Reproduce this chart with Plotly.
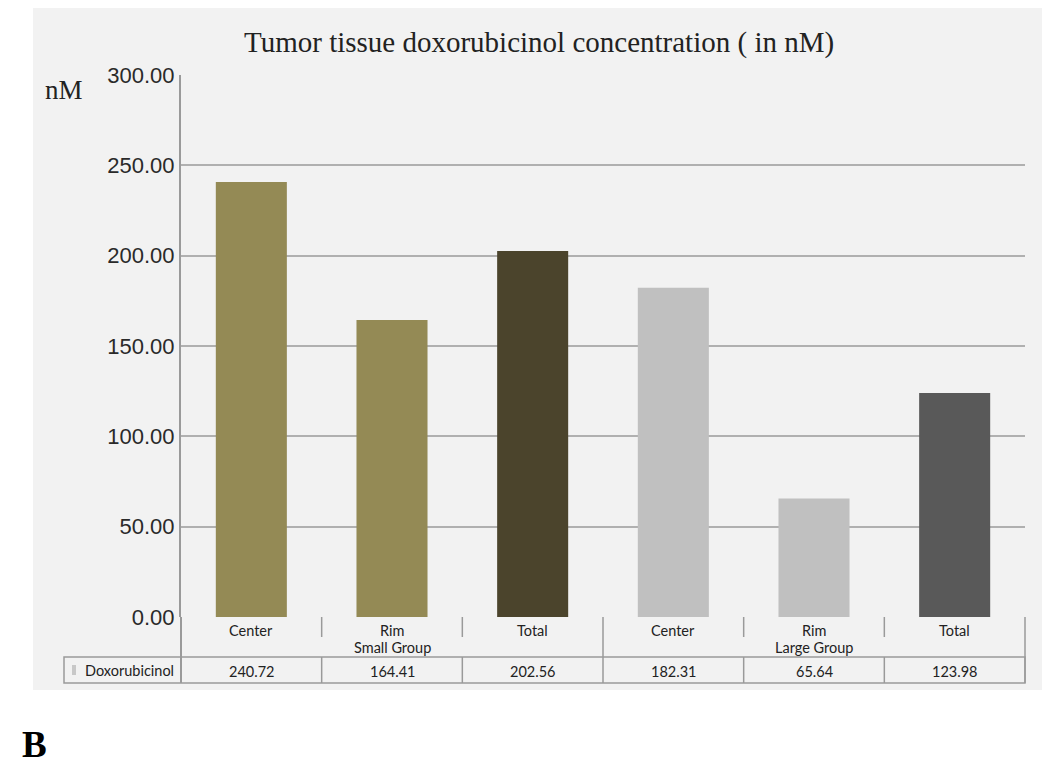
import plotly.graph_objects as go

# ---- data ----
categories = ["Center", "Rim", "Total", "Center", "Rim", "Total"]
groups = ["Small Group", "Large Group"]
values = [240.72, 164.41, 202.56, 182.31, 65.64, 123.98]
series_name = "Doxorubicinol"
bar_colors = ["#948a55", "#948a55", "#4b442c", "#c0c0c0", "#c0c0c0", "#595959"]
y_ticks = [0, 50, 100, 150, 200, 250, 300]

OFF = 8  # page body margin
W, H = 1050 - OFF, 765 - OFF
PL, PR, PT, PB = 181, 1025, 75, 617  # plot area in window pixels
ML, MT = PL - OFF, PT - OFF
MR = W - (PR - OFF)
MB = H - (PB - OFF)
PW, PH = PR - PL, PB - PT

def px(xp):
    return (xp - PL) / PW

def py(yp):
    return (PB - yp) / PH

LINE = "#9a9a9a"
PANEL = "#f2f2f2"

fig = go.Figure()
fig.add_trace(go.Bar(
    x=list(range(len(values))), y=values,
    marker=dict(color=bar_colors, line=dict(width=0)),
    showlegend=False, hoverinfo="y"))

shapes = []
shapes.append(dict(type="rect", xref="paper", yref="paper", layer="below",
                   x0=px(33), x1=px(1046), y0=py(690), y1=py(0),
                   fillcolor=PANEL, line=dict(width=0)))
shapes.append(dict(type="line", xref="paper", yref="paper", x0=0, x1=0,
                   y0=py(683), y1=0, line=dict(color=LINE, width=2)))
shapes.append(dict(type="line", xref="paper", yref="paper", x0=1, x1=1,
                   y0=py(683), y1=0, line=dict(color=LINE, width=1.5)))
shapes.append(dict(type="rect", xref="paper", yref="paper",
                   x0=px(64), x1=1, y0=py(683), y1=py(657),
                   line=dict(color=LINE, width=1.5)))
n = len(categories)
for k in range(1, n):
    xk = k / n
    if k == 3:
        shapes.append(dict(type="line", xref="paper", yref="paper", x0=xk, x1=xk,
                           y0=py(683), y1=0, line=dict(color=LINE, width=1.5)))
    else:
        shapes.append(dict(type="line", xref="paper", yref="paper", x0=xk, x1=xk,
                           y0=py(637), y1=0, line=dict(color=LINE, width=1.5)))
        shapes.append(dict(type="line", xref="paper", yref="paper", x0=xk, x1=xk,
                           y0=py(683), y1=py(657), line=dict(color=LINE, width=1.5)))
shapes.append(dict(type="rect", xref="paper", yref="paper",
                   x0=px(72), x1=px(76), y0=py(675), y1=py(665),
                   fillcolor="#c8c8c8", line=dict(width=0)))

cat_font = dict(family="Lato, Liberation Sans, sans-serif", size=14.5, color="#222222")
ann = []
for i, c in enumerate(categories):
    ann.append(dict(x=i, y=py(630), xref="x", yref="paper", text=c,
                    showarrow=False, font=cat_font, xanchor="center", yanchor="middle"))
    ann.append(dict(x=i, y=py(671), xref="x", yref="paper", text=f"{values[i]:.2f}",
                    showarrow=False, font=cat_font, xanchor="center", yanchor="middle"))
for g, gname in enumerate(groups):
    ann.append(dict(x=g * 3 + 1, y=py(647), xref="x", yref="paper", text=gname,
                    showarrow=False, font=cat_font, xanchor="center", yanchor="middle"))
ann.append(dict(x=px(83), y=py(670), xref="paper", yref="paper", text=series_name,
                showarrow=False, font=cat_font, xanchor="left", yanchor="middle"))
ann.append(dict(x=px(539), y=py(42), xref="paper", yref="paper",
                text="Tumor tissue doxorubicinol concentration ( in nM)",
                showarrow=False, xanchor="center", yanchor="middle",
                font=dict(family="Liberation Serif, Times New Roman, serif", size=29, color="#222222")))
ann.append(dict(x=px(43), y=py(90), xref="paper", yref="paper", text="nM",
                showarrow=False, xanchor="left", yanchor="middle",
                font=dict(family="Liberation Serif, Times New Roman, serif", size=27, color="#222222")))
ann.append(dict(x=px(20), y=py(744), xref="paper", yref="paper", text="<b>B</b>",
                showarrow=False, xanchor="left", yanchor="middle",
                font=dict(family="Liberation Serif, Times New Roman, serif", size=37, color="#000000")))

fig.update_layout(
    width=W, height=H, autosize=False,
    margin=dict(l=ML, r=MR, t=MT, b=MB, pad=0),
    paper_bgcolor="white", plot_bgcolor=PANEL,
    bargap=0.495,
    shapes=shapes, annotations=ann,
    xaxis=dict(range=[-0.5, n - 0.5], showticklabels=False, showgrid=False,
               zeroline=False, showline=False, ticks=""),
    yaxis=dict(range=[0, 300], tickvals=y_ticks, tickformat=".2f",
               showgrid=True, gridcolor="#b0b0b0", gridwidth=1.5,
               showline=True, linecolor=LINE, linewidth=2, zeroline=False,
               ticks="", ticklen=0,
               tickfont=dict(family="Liberation Sans, Arial, sans-serif", size=22, color="#2a2a2a")),
)

fig.write_html("out.html")
